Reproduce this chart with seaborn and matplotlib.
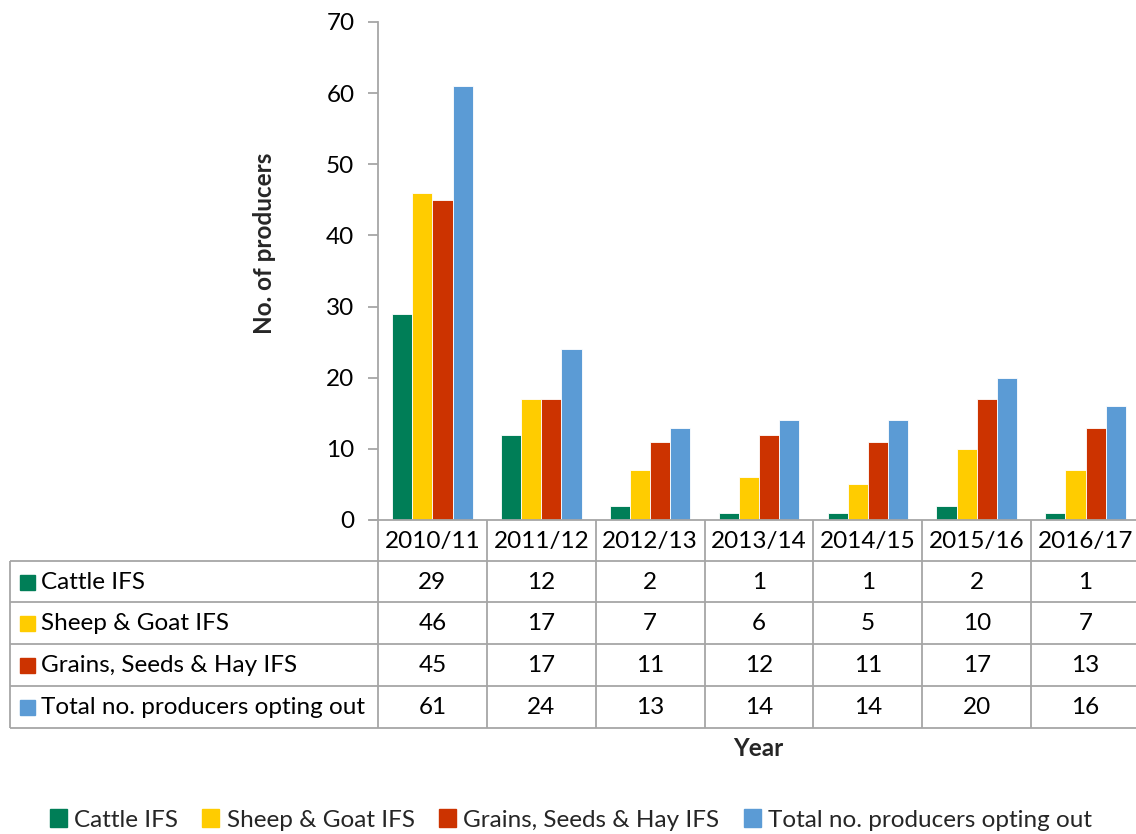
import pandas as pd
import numpy as np
import matplotlib.pyplot as plt
import seaborn as sns
from matplotlib.patches import Rectangle
from matplotlib.lines import Line2D

sns.set_theme(style='white')
plt.rcParams['font.family'] = ['Lato', 'DejaVu Sans']

# Dữ liệu
years = ['2010/11', '2011/12', '2012/13', '2013/14', '2014/15', '2015/16', '2016/17']
series = ['Cattle IFS', 'Sheep & Goat IFS', 'Grains, Seeds & Hay IFS',
          'Total no. producers opting out']
cattle = [29, 12, 2, 1, 1, 2, 1]
sheep_goat = [46, 17, 7, 6, 5, 10, 7]
grains = [45, 17, 11, 12, 11, 17, 13]
total = [61, 24, 13, 14, 14, 20, 16]
colors = ['#007E57', '#FFCC00', '#CC3300', '#5B9BD5']

values = [cattle, sheep_goat, grains, total]
df = pd.DataFrame({
    'year': np.tile(years, len(series)),
    'series': np.repeat(series, len(years)),
    'value': np.concatenate(values),
})

W, H = 1136, 834
fig = plt.figure(figsize=(W / 100, H / 100), dpi=100)
fs = 17.5
grey = '#A6A6A6'

# Trục chính (pixel)
ax_l, ax_r, ax_t, ax_b = 378, 1140, 22, 520
ax = fig.add_axes([ax_l / W, 1 - ax_b / H, (ax_r - ax_l) / W, (ax_b - ax_t) / H])
sns.barplot(data=df, x='year', y='value', hue='series', palette=colors, saturation=1,
            width=0.74, edgecolor='white', linewidth=0.6, ax=ax, legend=False)
ax.set_xlim(-0.5, len(years) - 0.5)
ax.set_ylim(0, 70)
ax.set_yticks(range(0, 71, 10))
ax.set_xticks([])
ax.set_xlabel('')
ax.set_ylabel('')
for s in ['top', 'right']:
    ax.spines[s].set_visible(False)
for s in ['left', 'bottom']:
    ax.spines[s].set_color(grey)
    ax.spines[s].set_linewidth(1.3)
ax.tick_params(axis='y', direction='out', length=7, width=1.3, color=grey,
               labelsize=fs, pad=10, left=True, labelcolor='black')
ax.spines['bottom'].set_bounds(-0.5 - 8 / 108.8, len(years) - 0.5)

# Bảng dữ liệu (lớp phủ theo pixel)
ov = fig.add_axes([0, 0, 1, 1])
ov.set_xlim(0, W)
ov.set_ylim(H, 0)
ov.axis('off')
ov.patch.set_alpha(0)

col_w = (ax_r - ax_l) / len(years)
row_top = [ax_b, 561, 602, 644, 686, 728]
tab_left = 10
lk = dict(color=grey, lw=1.3, solid_capstyle='butt')

# đường dọc
ov.add_line(Line2D([ax_l, ax_l], [ax_b, row_top[-1]], **lk))
for i in range(1, len(years) + 1):
    x = ax_l + i * col_w
    ov.add_line(Line2D([x, x], [ax_b, row_top[-1]], **lk))
ov.add_line(Line2D([tab_left, tab_left], [row_top[1], row_top[-1]], **lk))
# đường ngang
for y in row_top[1:]:
    ov.add_line(Line2D([tab_left, ax_r], [y, y], **lk))

for i, yr in enumerate(years):
    ov.text(ax_l + (i + 0.5) * col_w, (row_top[0] + row_top[1]) / 2 + 1, yr,
            ha='center', va='center', fontsize=fs, color='black')
for r, (name, vals, c) in enumerate(zip(series, values, colors)):
    yc = (row_top[r + 1] + row_top[r + 2]) / 2
    ov.add_patch(Rectangle((20, yc - 7), 15, 15, color=c))
    ov.text(41, yc + 1, name, ha='left', va='center', fontsize=fs, color='black')
    for i, v in enumerate(vals):
        ov.text(ax_l + (i + 0.5) * col_w, yc + 1, str(v), ha='center', va='center',
                fontsize=fs, color='black')

# Nhãn trục
fig.text(265 / W, 1 - 243 / H, 'No. of producers', rotation=90, ha='center',
         va='center', fontsize=fs, fontweight='bold')
fig.text(758 / W, 1 - 748 / H, 'Year', ha='center', va='center', fontsize=fs,
         fontweight='bold')

# Chú giải
handles = [Rectangle((0, 0), 1, 1, color=c) for c in colors]
fig.legend(handles, series, loc='center', bbox_to_anchor=(571 / W, 1 - 820 / H),
           ncol=4, frameon=False, fontsize=fs, handlelength=0.7, handleheight=0.7,
           handletextpad=0.3, columnspacing=1.0)

fig.savefig('out.png', dpi=100)
